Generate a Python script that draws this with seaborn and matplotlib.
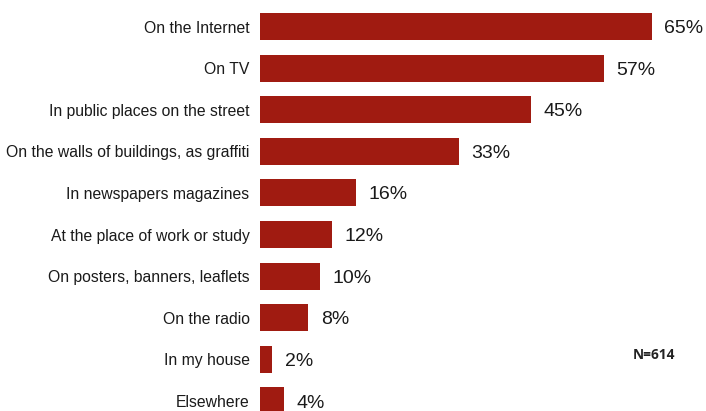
import matplotlib
matplotlib.use("Agg")
import matplotlib.pyplot as plt
import seaborn as sns
import pandas as pd

places = [
    "On the Internet",
    "On TV",
    "In public places on the street",
    "On the walls of buildings, as graffiti",
    "In newspapers magazines",
    "At the place of work or study",
    "On posters, banners, leaflets",
    "On the radio",
    "In my house",
    "Elsewhere",
]
shares = [65, 57, 45, 33, 16, 12, 10, 8, 2, 4]
sample_note = "N=614"

df = pd.DataFrame({"place": places, "share": shares})

sns.set_theme(style="white")
plt.rcParams["font.family"] = ["Liberation Sans", "DejaVu Sans"]

W, H = 706, 411
fig = plt.figure(figsize=(W / 100, H / 100), dpi=100)
left_px, px_per_pct = 260, 6.03
xmax = 72
ax = fig.add_axes([left_px / W, 0, xmax * px_per_pct / W, 1])

sns.barplot(data=df, x="share", y="place", color="#a01b11", saturation=1,
            width=0.65, ax=ax, orient="h", linewidth=0)

ax.set_xlim(0, xmax)
ax.set_ylim(9.24, -0.637)
ax.set_xlabel("")
ax.set_ylabel("")
ax.set_xticks([])
ax.tick_params(axis="y", length=0, pad=7.5, labelsize=11.3, labelcolor="#1a1a1a")
for lbl in ax.get_yticklabels():
    lbl.set_verticalalignment("center_baseline")
for s in ax.spines.values():
    s.set_visible(False)

for i, v in enumerate(shares):
    ax.annotate(f"{v}%", xy=(v, i), xytext=(9, 0), textcoords="offset points",
                ha="left", va="center_baseline", fontsize=14, color="#1a1a1a")

fig.text(654 / W, 1 - 355 / H, sample_note, ha="center", va="center",
         fontsize=9.8, fontweight="bold", color="#222222", family="Open Sans")

fig.savefig("out.png", dpi=100)
